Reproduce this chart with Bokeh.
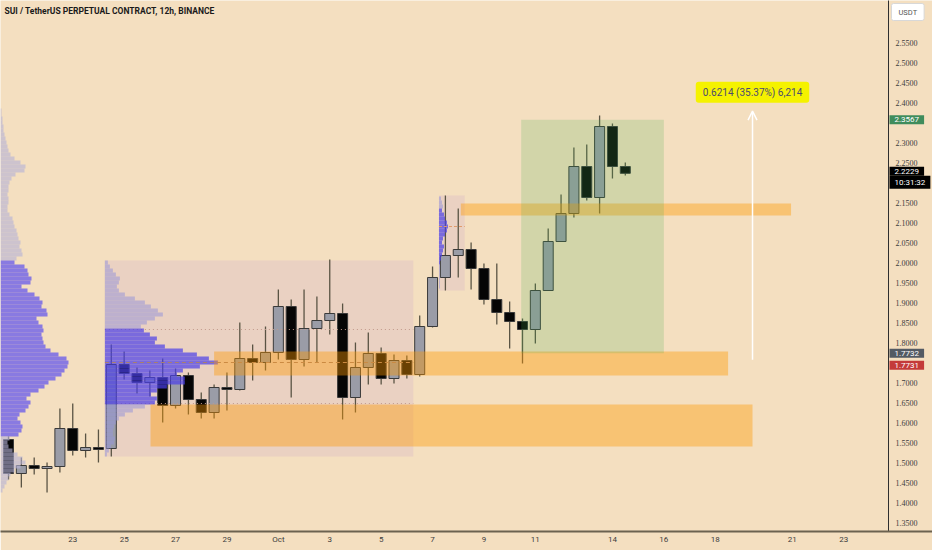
import numpy as np
from bokeh.plotting import figure
from bokeh.models import (Range1d, FixedTicker, Label, Arrow, OpenHead, ColumnDataSource)
from bokeh.embed import file_html
from bokeh.resources import INLINE

title_text = "SUI / TetherUS PERPETUAL CONTRACT, 12h, BINANCE"

# 12h candles, index 0 = 20 Sep 12:00
opens = [1.5575, 1.4725, 1.4925, 1.485, 1.49, 1.585, 1.53, 1.5375, 1.535, 1.745,
         1.7225, 1.70, 1.7125, 1.6425, 1.7175, 1.6575, 1.625, 1.6875, 1.6825, 1.76,
         1.75, 1.775, 1.89, 1.7575, 1.835, 1.855, 1.8725, 1.6625, 1.7375, 1.7725,
         1.71, 1.755, 1.72, 1.84, 1.9625, 2.0175, 2.0325, 1.985, 1.9075, 1.875,
         1.8525, 1.8325, 1.93, 2.0525, 2.1225, 2.24, 2.1625, 2.34, 2.24]
highs = [1.565, 1.5125, 1.5125, 1.50, 1.635, 1.6475, 1.5725, 1.5825, 1.795, 1.7775,
         1.7375, 1.73, 1.76, 1.735, 1.725, 1.675, 1.695, 1.725, 1.85, 1.795,
         1.84, 1.9325, 1.9075, 1.9325, 1.915, 2.0075, 1.8975, 1.80, 1.825, 1.7875,
         1.77, 1.7675, 1.8675, 1.99, 2.1675, 2.135, 2.05, 1.9975, 1.9975, 1.9025,
         1.86, 1.9475, 2.085, 2.17, 2.2875, 2.295, 2.3675, 2.3475, 2.25]
lows = [1.4575, 1.4375, 1.47, 1.425, 1.475, 1.5175, 1.5125, 1.50, 1.515, 1.7075,
        1.6725, 1.665, 1.60, 1.635, 1.62, 1.61, 1.61, 1.63, 1.68, 1.705,
        1.73, 1.7575, 1.6625, 1.74, 1.75, 1.82, 1.6075, 1.625, 1.695, 1.695,
        1.6975, 1.71, 1.715, 1.8375, 1.93, 1.9625, 1.9325, 1.895, 1.845, 1.785,
        1.7475, 1.7975, 1.93, 2.0525, 2.1125, 2.155, 2.1225, 2.21, 2.2175]
closes = [1.4725, 1.4925, 1.485, 1.49, 1.585, 1.53, 1.5375, 1.5325, 1.745, 1.7225,
          1.70, 1.7125, 1.6425, 1.7175, 1.6575, 1.625, 1.6875, 1.6825, 1.76, 1.75,
          1.775, 1.89, 1.7575, 1.835, 1.855, 1.8725, 1.6625, 1.7375, 1.7725, 1.71,
          1.755, 1.72, 1.84, 1.9625, 2.0175, 2.0325, 1.985, 1.9075, 1.875, 1.8525,
          1.8325, 1.93, 2.0525, 2.1225, 2.24, 2.1625, 2.34, 2.24, 2.2229]

date_tick_idx = [5, 9, 13, 17, 21, 25, 29, 33, 37, 41, 47, 51, 55, 61, 65]
date_tick_labels = ["23", "25", "27", "29", "Oct", "3", "5", "7", "9", "11",
                    "14", "16", "18", "21", "23"]
# price-scale labels that are not hidden behind the tags
price_ticks = [1.35, 1.40, 1.45, 1.50, 1.55, 1.60, 1.65, 1.70, 1.80, 1.85,
               1.90, 1.95, 2.00, 2.05, 2.10, 2.15, 2.25, 2.30, 2.40,
               2.45, 2.50, 2.55]

# visible range volume profile: bins of 0.01 from 2.38 downwards
vp_left_top = 2.38
vp_left_vol = [1, 1, 2, 2, 3, 3, 4, 5, 6, 7, 8, 10, 14, 20, 25, 24, 15, 11, 9, 8,
               8, 7, 8, 8, 7, 7, 9, 12, 13, 14, 16, 17, 18, 20, 19, 21, 22, 16,
               14, 24, 27, 28, 31, 30, 21, 27, 34, 39, 42, 41, 46, 47, 36, 38, 42, 43,
               41, 42, 43, 45, 50, 58, 66, 68, 67, 64, 61, 55, 48, 44, 38, 30, 26, 30,
               28, 25, 19, 17, 20, 22, 21, 18,
               9, 7, 8, 12, 17, 22, 25, 20, 14, 10, 8, 6, 4, 2]
vp_left_va = (1.565, 2.0)

# fixed range volume profile (candles 8..31): bins of 0.01 from 2.00 downwards
vp_range_top = 2.00
vp_range_vol = [3, 5, 8, 11, 15, 14, 12, 14, 20, 30, 40, 46, 53, 58, 50, 42, 36, 39,
                45, 52, 50, 60, 78, 92, 104, 113, 95, 78, 72, 80, 80, 62, 52, 46, 52,
                50, 40, 28, 20, 14, 11, 9, 8, 8, 10, 9, 6, 4, 2]
vp_range_va = (1.65, 1.83)
vp_range_vah, vp_range_val, vp_range_poc = 1.8325, 1.6475, 1.75

# small fixed range profile (candles 34..35)
vp_small_top = 2.16
vp_small_vol = [2, 3, 4, 3, 5, 6, 8, 9, 8, 6, 4, 3, 5, 4, 3, 2, 1, 1, 1, 1, 1, 1, 1]
vp_small_va = (2.0, 2.13)
vp_small_poc = 2.09

# drawn zones (candle index ranges, price ranges)
zone_left = [35.2, 16.0, 11.05]
zone_right = [60.9, 56.0, 57.9]
zone_bottom = [2.1175, 1.7175, 1.54]
zone_top = [2.1475, 1.7775, 1.645]

range_box = [7.5, 31.5, 1.515, 2.005]
small_box = [33.5, 35.5, 1.93, 2.1675]
long_box = [39.9, 51.0, 1.7732, 2.3567]

measure_x = 57.9
measure_low = 1.7569
measure_high = 2.3783
measure_text = "0.6214 (35.37%) 6,214"

last_price = 2.2229
countdown = "10:31:32"
tag_high = 2.3567
tag_grey = 1.7732
tag_red = 1.7731

BG = "#f4dfc0"
FONT = "Roboto"
PX = 12.85            # pixels per candle
X0 = -8 / PX          # left edge of the canvas in candle units
XS = 880 / PX         # price scale edge in candle units
X1 = 924 / PX

p = figure(width=932, height=550, x_range=Range1d(X0, X1), y_range=Range1d(1.3275, 2.655),
           output_backend="svg", toolbar_location=None, y_axis_location=None,
           min_border_left=0, min_border_top=0, min_border_right=0, min_border_bottom=19)
p.background_fill_color = BG
p.border_fill_color = BG
p.outline_line_color = None
p.grid.visible = False

# range boxes (under candles)
p.quad(left=[range_box[0], small_box[0]], right=[range_box[1], small_box[1]],
       bottom=[range_box[2], small_box[2]], top=[range_box[3], small_box[3]],
       fill_color="#c9a0c8", fill_alpha=0.22, line_color=None)

# candles
o = np.array(opens)
c = np.array(closes)
up = c >= o
body_bot = np.minimum(o, c)
body_top = np.maximum(np.maximum(o, c), body_bot + 0.004)
src = ColumnDataSource(dict(x=np.arange(len(opens)), top=body_top, bottom=body_bot,
                            high=highs, low=lows,
                            color=np.where(up, "#9a9ca7", "#050505").tolist()))
p.segment(x0="x", y0="low", x1="x", y1="high", source=src, line_color="#5a5444", line_width=1.3)
p.vbar(x="x", top="top", bottom="bottom", width=0.78, fill_color="color",
       line_color="#3a3a3a", line_width=1, source=src)


def profile(top, vol, anchor, max_w, va, va_color, out_color, va_alpha, out_alpha):
    vol = np.array(vol, float)
    prices = top - 0.01 * np.arange(len(vol))
    right = anchor + vol / vol.max() * max_w
    inva = (prices >= va[0] - 1e-9) & (prices <= va[1] + 1e-9)
    s = ColumnDataSource(dict(y=prices, left=np.full(len(vol), anchor), right=right,
                              color=np.where(inva, va_color, out_color).tolist(),
                              alpha=np.where(inva, va_alpha, out_alpha)))
    p.hbar(y="y", left="left", right="right", height=0.01, fill_color="color",
           fill_alpha="alpha", line_color=None, source=s)


# fixed range profile + lines
p.segment(x0=[range_box[0]] * 2, x1=[range_box[1]] * 2, y0=[vp_range_vah, vp_range_val],
          y1=[vp_range_vah, vp_range_val], line_color="#c0998a", line_width=1, line_dash="1 3")
profile(vp_range_top, vp_range_vol, range_box[0], 113 / PX, vp_range_va,
        "#4a3fe8", "#9896d8", 0.7, 0.55)
p.segment(x0=[range_box[0]], x1=[range_box[1]], y0=[vp_range_poc], y1=[vp_range_poc],
          line_color="#a9806e", line_width=1, line_dash="4 3")

profile(vp_small_top, vp_small_vol, small_box[0], 9 / PX, vp_small_va,
        "#4a3fe8", "#9896d8", 0.7, 0.55)
p.segment(x0=[small_box[0]], x1=[small_box[1]], y0=[vp_small_poc], y1=[vp_small_poc],
          line_color="#e09a6a", line_width=1, line_dash="3 2")

# orange zones
p.quad(left=zone_left, right=zone_right, bottom=zone_bottom, top=zone_top,
       fill_color="#ff9800", fill_alpha=0.4, line_color=None)

# long / price range box
p.quad(left=[long_box[0]], right=[long_box[1]], bottom=[long_box[2]], top=[long_box[3]],
       fill_color="#4caf50", fill_alpha=0.2, line_color=None)

# visible range profile
profile(vp_left_top, vp_left_vol, X0, 68 / PX, vp_left_va,
        "#5b4ff0", "#b4b2d6", 0.7, 0.62)

# measure arrow + label
p.add_layout(Arrow(end=OpenHead(size=9, line_color="white", line_width=1.5),
                   x_start=measure_x, y_start=measure_low, x_end=measure_x, y_end=measure_high,
                   line_color="white", line_width=1.5))
p.add_layout(Label(x=measure_x, y=measure_high, y_offset=19, text=measure_text,
                   text_align="center", text_baseline="middle", text_font=FONT,
                   text_font_size="10px", text_color="#4b4b70", background_fill_color="#f5f200",
                   padding=(7, 5), border_radius=3))

# title
p.add_layout(Label(x=X0, y=2.655, x_offset=4, y_offset=-5, text=title_text, text_align="left",
                   text_baseline="top", text_font=FONT, text_font_style="bold",
                   text_font_size="8.5px", text_color="#1a1a1a"))

# price scale: border line and labels
p.segment(x0=[XS], x1=[XS], y0=[1.0], y1=[3.0], line_color="#2e2e2e", line_width=1)
p.text(x=[XS] * len(price_ticks), y=price_ticks, text=["%.4f" % t for t in price_ticks],
       x_offset=7, text_align="left", text_baseline="middle", text_font=FONT,
       text_font_size="8px", text_color="#3c3c3c")

# time axis
p.xaxis.ticker = FixedTicker(ticks=date_tick_idx)
p.xaxis.major_label_overrides = {i: s for i, s in zip(date_tick_idx, date_tick_labels)}
p.xaxis.major_label_text_font = FONT
p.xaxis.major_label_text_font_size = "8px"
p.xaxis.major_label_text_color = "#3c3c3c"
p.xaxis.major_label_standoff = 3
p.xaxis.major_tick_out = 0
p.xaxis.major_tick_in = 0
p.xaxis.minor_tick_out = 0
p.xaxis.minor_tick_in = 0
p.xaxis.axis_line_color = "#6b6250"
p.xaxis.axis_line_width = 2


# price axis tags
def tag(y, text, bg, yoff=0, fg="white"):
    p.add_layout(Label(x=XS, y=y, x_offset=1, y_offset=yoff, text=text, text_align="left",
                       text_baseline="middle", text_font=FONT, text_font_size="8px",
                       text_color=fg, background_fill_color=bg, padding=(5, 2)))


p.add_layout(Label(x=XS, y=2.655, x_offset=3, y_offset=-3, text="USDT", text_align="left",
                   text_baseline="top", text_font=FONT, text_font_size="7.5px",
                   text_color="#555555", background_fill_color="white",
                   border_line_color="#d8d8d8", padding=(7, 4), border_radius=2))
tag(tag_high, "%.4f" % tag_high, "#3f8c5c")
tag(last_price, "%.4f" % last_price, "#000000", yoff=2)
tag(last_price, countdown, "#000000", yoff=-9)
tag(tag_grey, "%.4f" % tag_grey, "#535a63")
tag(tag_red, "%.4f" % tag_red, "#c43a3a", yoff=-12)

open("out.html", "w").write(file_html(p, INLINE))
